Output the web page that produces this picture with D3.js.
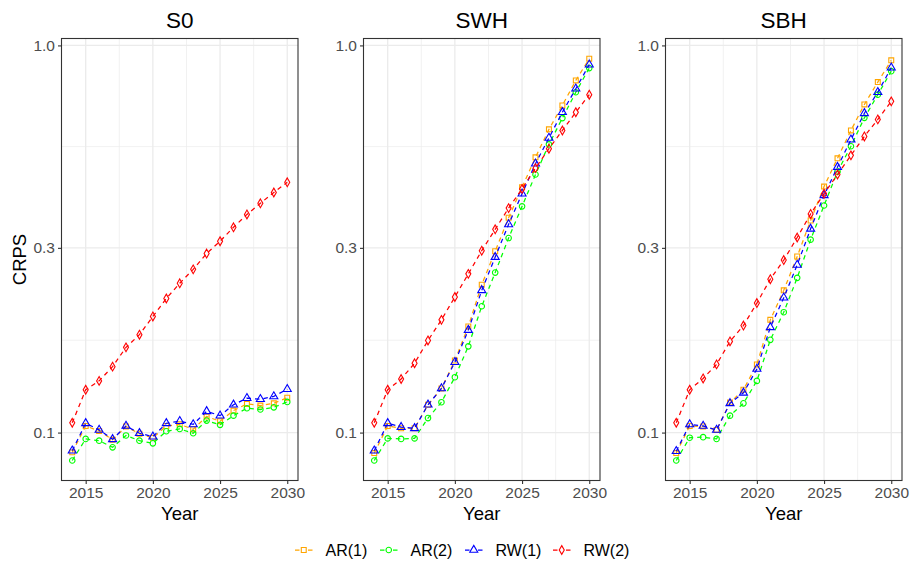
<!DOCTYPE html>
<html>
<head>
<meta charset="utf-8">
<script src="https://cdn.jsdelivr.net/npm/d3@7"></script>
<style>
 body { margin:0; background:#fff; }
 text { font-family: "Liberation Sans", Arial, sans-serif; }
</style>
</head>
<body>
<div id="chart"></div>
<script>
var years = [2014,2015,2016,2017,2018,2019,2020,2021,2022,2023,2024,2025,2026,2027,2028,2029,2030];
var panels = ["S0", "SWH", "SBH"];
var seriesNames = ["AR(1)", "AR(2)", "RW(1)", "RW(2)"];
var seriesColors = ["#FFA500", "#00FF00", "#0000FF", "#FF0000"];
var seriesShapes = ["square", "circle", "triangle", "diamond"];
var yTicks = [0.1, 0.3, 1.0];
var yTickLabels = ["0.1", "0.3", "1.0"];
var xTicks = [2015, 2020, 2025, 2030];

// S0
var s0_ar1 = [0.0889,0.104,0.101,0.0958,0.1037,0.0993,0.0969,0.104,0.105,0.102,0.110,0.107,0.114,0.1186,0.1174,0.119,0.123];
var s0_ar2 = [0.0847,0.0963,0.0953,0.0916,0.0983,0.0953,0.0938,0.1008,0.1022,0.0996,0.1074,0.1047,0.1106,0.1156,0.1147,0.1162,0.120];
var s0_rw1 = [0.0898,0.1057,0.1016,0.0961,0.104,0.0996,0.0976,0.1057,0.107,0.105,0.1135,0.1106,0.118,0.1227,0.122,0.124,0.1294];
var s0_rw2 = [0.106,0.129,0.136,0.148,0.166,0.179,0.1995,0.222,0.243,0.264,0.290,0.312,0.339,0.366,0.391,0.417,0.443];
// SWH
var swh_ar1 = [0.0885,0.104,0.1026,0.1026,0.118,0.130,0.1535,0.188,0.241,0.294,0.359,0.430,0.514,0.607,0.700,0.812,0.924];
var swh_ar2 = [0.0847,0.0966,0.0963,0.0966,0.109,0.1198,0.139,0.167,0.212,0.259,0.318,0.384,0.464,0.555,0.649,0.757,0.874];
var swh_rw1 = [0.0898,0.1057,0.1033,0.1026,0.118,0.130,0.152,0.184,0.233,0.284,0.345,0.414,0.495,0.577,0.672,0.773,0.892];
var swh_rw2 = [0.106,0.129,0.1375,0.151,0.173,0.1955,0.224,0.257,0.295,0.335,0.380,0.426,0.482,0.541,0.603,0.672,0.746];
// SBH
var sbh_ar1 = [0.0885,0.104,0.1037,0.1016,0.1195,0.129,0.150,0.1955,0.233,0.285,0.353,0.432,0.511,0.603,0.704,0.804,0.915];
var sbh_ar2 = [0.0847,0.097,0.0973,0.0963,0.1106,0.119,0.136,0.1736,0.2046,0.251,0.315,0.386,0.472,0.549,0.650,0.746,0.858];
var sbh_rw1 = [0.0895,0.105,0.104,0.1016,0.119,0.1267,0.146,0.187,0.223,0.271,0.336,0.410,0.485,0.571,0.668,0.757,0.876];
var sbh_rw2 = [0.106,0.129,0.138,0.150,0.172,0.189,0.216,0.249,0.279,0.319,0.367,0.414,0.464,0.520,0.582,0.644,0.717];

var panelData = [
  [s0_ar1, s0_ar2, s0_rw1, s0_rw2],
  [swh_ar1, swh_ar2, swh_rw1, swh_rw2],
  [sbh_ar1, sbh_ar2, sbh_rw1, sbh_rw2]
];

var w = 912, h = 563;
var svg = d3.select("#chart").append("svg").attr("width", w).attr("height", h);

var panelLeft = [61.5, 363.5, 665.5];
var panelWidth = 236.5;
var plotTop = 38.5, plotBottom = 480.5;

var y = d3.scaleLog().domain([0.0752, 1.042]).range([plotBottom, plotTop]);
var minorY = [Math.sqrt(0.1*0.3), Math.sqrt(0.3*1.0)];
var minorX = [2017.5, 2022.5, 2027.5];

function symbolPath(shape) {
  if (shape == "square") return d3.symbol().type(d3.symbolSquare).size(24)();
  if (shape == "circle") return d3.symbol().type(d3.symbolCircle).size(24)();
  if (shape == "triangle") return d3.symbol().type(d3.symbolTriangle).size(28)();
  return d3.symbol().type(d3.symbolDiamond).size(22)();
}

panels.forEach(function(name, pi) {
  var x0 = panelLeft[pi];
  var x = d3.scaleLinear().domain([2013.2, 2030.8]).range([x0, x0 + panelWidth]);
  var g = svg.append("g");

  // grid
  g.selectAll(".gminx").data(minorX).enter().append("line")
   .attr("x1", function(d){ return x(d); }).attr("x2", function(d){ return x(d); })
   .attr("y1", plotTop).attr("y2", plotBottom).attr("stroke", "#ebebeb").attr("stroke-width", 0.7);
  g.selectAll(".gminy").data(minorY).enter().append("line")
   .attr("x1", x0).attr("x2", x0 + panelWidth)
   .attr("y1", function(d){ return y(d); }).attr("y2", function(d){ return y(d); })
   .attr("stroke", "#ebebeb").attr("stroke-width", 0.7);
  g.selectAll(".gmajx").data(xTicks).enter().append("line")
   .attr("x1", function(d){ return x(d); }).attr("x2", function(d){ return x(d); })
   .attr("y1", plotTop).attr("y2", plotBottom).attr("stroke", "#ebebeb").attr("stroke-width", 1.3);
  g.selectAll(".gmajy").data(yTicks).enter().append("line")
   .attr("x1", x0).attr("x2", x0 + panelWidth)
   .attr("y1", function(d){ return y(d); }).attr("y2", function(d){ return y(d); })
   .attr("stroke", "#ebebeb").attr("stroke-width", 1.3);

  // series
  panelData[pi].forEach(function(vals, si) {
    var pts = years.map(function(yr, i){ return {year: yr, v: vals[i]}; });
    var line = d3.line().x(function(d){ return x(d.year); }).y(function(d){ return y(d.v); });
    g.append("path").datum(pts).attr("d", line)
     .attr("fill", "none").attr("stroke", seriesColors[si])
     .attr("stroke-width", 1.25).attr("stroke-dasharray", "4.5,4");
    g.selectAll(".pt" + si).data(pts).enter().append("path")
     .attr("d", symbolPath(seriesShapes[si]))
     .attr("transform", function(d){ return "translate(" + x(d.year) + "," + y(d.v) + ")"; })
     .attr("fill", "none").attr("stroke", seriesColors[si]).attr("stroke-width", 1.1);
  });

  // border
  g.append("rect").attr("x", x0).attr("y", plotTop).attr("width", panelWidth).attr("height", plotBottom - plotTop)
   .attr("fill", "none").attr("stroke", "#333333").attr("stroke-width", 1.1);

  // axes
  var xAxis = d3.axisBottom(x).tickValues(xTicks).tickFormat(d3.format("d")).tickSize(3.5).tickPadding(2.5);
  var xg = g.append("g").attr("transform", "translate(0," + plotBottom + ")").call(xAxis);
  var yAxis = d3.axisLeft(y).tickValues(yTicks).tickFormat(function(d, i){ return yTickLabels[i]; }).tickSize(3.5).tickPadding(3);
  var yg = g.append("g").attr("transform", "translate(" + x0 + ",0)").call(yAxis);
  [xg, yg].forEach(function(ax) {
    ax.select(".domain").remove();
    ax.selectAll(".tick line").attr("stroke", "#333333").attr("stroke-width", 1.1);
    ax.selectAll(".tick text").attr("fill", "#4d4d4d").style("font-size", "15.5px")
      .style("font-family", "'Liberation Sans', Arial, sans-serif");
  });

  g.append("text").attr("x", x0 + panelWidth / 2).attr("y", 28).attr("text-anchor", "middle")
   .style("font-size", "22.5px").attr("fill", "#000").text(name);
  g.append("text").attr("x", x0 + panelWidth / 2).attr("y", 519.5).attr("text-anchor", "middle")
   .style("font-size", "18.5px").attr("fill", "#000").text("Year");
});

svg.append("text").attr("transform", "translate(26,259.5) rotate(-90)").attr("text-anchor", "middle")
   .style("font-size", "18.5px").attr("fill", "#000").text("CRPS");

// legend
var legendX = [295, 380, 465, 553];
var legendY = 550;
var lg = svg.append("g");
seriesNames.forEach(function(nm, si) {
  var lx = legendX[si];
  lg.append("line").attr("x1", lx).attr("x2", lx + 17.5).attr("y1", legendY).attr("y2", legendY)
    .attr("stroke", seriesColors[si]).attr("stroke-width", 1.25).attr("stroke-dasharray", "4.5,2");
  lg.append("path").attr("d", symbolPath(seriesShapes[si]))
    .attr("transform", "translate(" + (lx + 8.75) + "," + legendY + ")")
    .attr("fill", "#fff").attr("stroke", seriesColors[si]).attr("stroke-width", 1.1);
  lg.append("text").attr("x", lx + 30.5).attr("y", legendY + 5.5)
    .style("font-size", "16px").attr("fill", "#000").text(nm);
});
</script>
</body>
</html>
